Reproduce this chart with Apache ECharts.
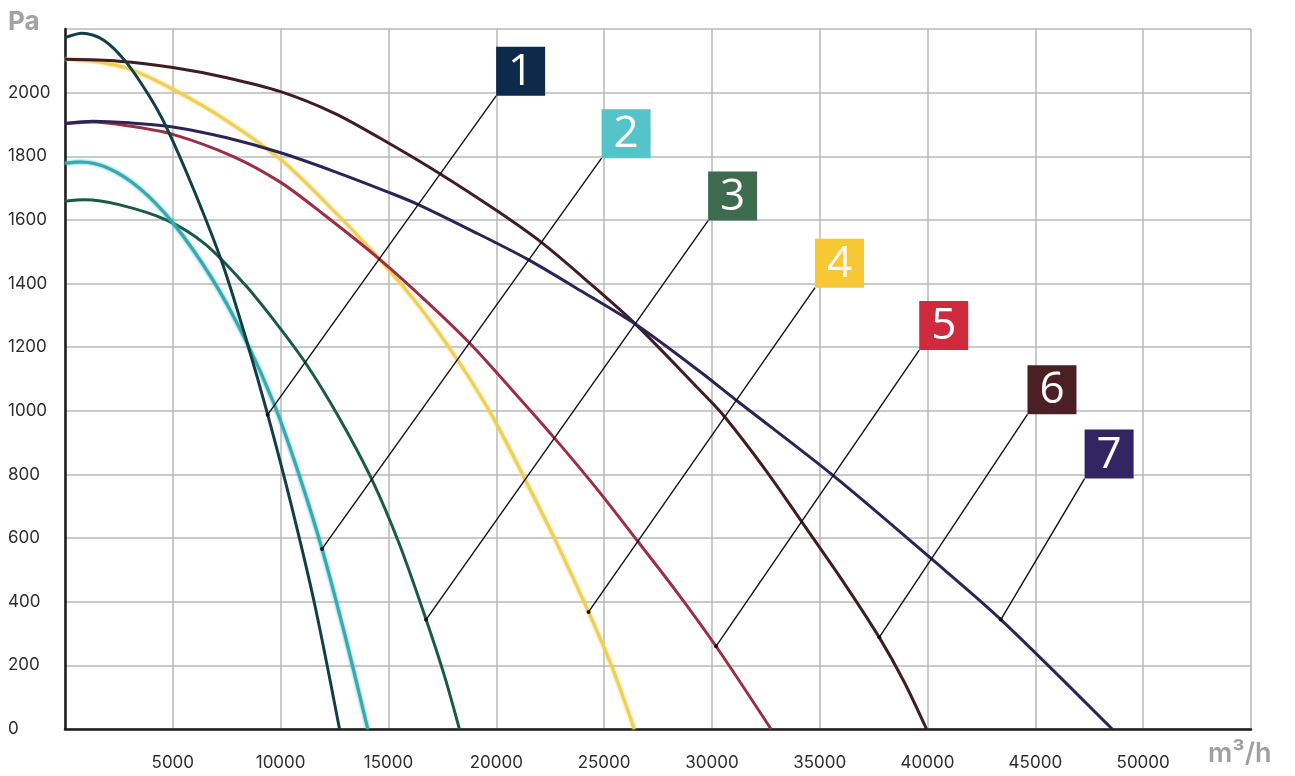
<!DOCTYPE html>
<html>
<head>
<meta charset="utf-8">
<title>Fan performance curves</title>
<script src="https://cdn.jsdelivr.net/npm/echarts@6/dist/echarts.min.js"></script>
<style>
  html, body { margin: 0; padding: 0; background: #ffffff; }
  #chart { width: 1295px; height: 776px; }
</style>
</head>
<body>
<div id="chart"></div>
<script>
// Air flow (m³/h) and static pressure (Pa) for each fan model
const fan1Flow = [0, 800, 1800, 2835, 3900, 4690, 6000, 7316, 8400, 9400, 10500, 11600, 12730];
const fan1Pressure = [2173, 2187, 2165, 2096, 1990, 1893, 1690, 1460, 1225, 988, 702, 385, 0];

const fan2Flow = [0, 700, 2000, 3450, 5000, 6840, 8400, 9710, 10850, 11920, 13000, 14040];
const fan2Pressure = [1778, 1782, 1763, 1700, 1591, 1413, 1219, 1019, 800, 566, 290, 0];

const fan3Flow = [0, 900, 2500, 4690, 6500, 8300, 9800, 11180, 12700, 14195, 15500, 16745, 17600, 18290];
const fan3Pressure = [1659, 1663, 1648, 1600, 1524, 1400, 1275, 1148, 980, 789, 582, 344, 166, 0];

const fan4Flow = [0, 1500, 3000, 5000, 7500, 10000, 12300, 14580, 16500, 18290, 19800, 21300, 22800, 24280, 25400, 26400];
const fan4Pressure = [2105, 2097, 2074, 2011, 1912, 1790, 1640, 1477, 1322, 1151, 985, 789, 585, 368, 189, 0];

const fan5Flow = [0, 1300, 3000, 5000, 7780, 10000, 12000, 14580, 16700, 18750, 20700, 22690, 24600, 26560, 28400, 30190, 32740];
const fan5Pressure = [1903, 1908, 1895, 1869, 1800, 1718, 1617, 1477, 1348, 1214, 1068, 915, 760, 590, 428, 260, 0];

const fan6Flow = [0, 2500, 5000, 7500, 10000, 12500, 14580, 17440, 20000, 22080, 24300, 26480, 29410, 30570, 32500, 34200, 36000, 37760, 38900, 39950];
const fan6Pressure = [2105, 2099, 2079, 2047, 2003, 1935, 1858, 1743, 1630, 1530, 1403, 1271, 1067, 983, 813, 648, 472, 288, 150, 0];

const fan7Flow = [0, 1300, 3000, 5000, 7500, 10000, 12500, 15040, 16360, 18900, 21460, 24000, 26480, 29410, 31190, 35670, 40230, 43400, 48560];
const fan7Pressure = [1903, 1910, 1905, 1892, 1858, 1811, 1752, 1686, 1649, 1565, 1476, 1374, 1271, 1125, 1030, 794, 532, 344, 0];

// Tag numbers and the point on each curve that a tag points to
const fanTags = ['1', '2', '3', '4', '5', '6', '7'];
const calloutFlow = [9400, 11920, 16745, 24280, 30190, 37760, 43400];
const calloutPressure = [988, 566, 344, 368, 260, 288, 344];

// Where the tag boxes sit, in axis units (box centre)
const tagFlow = [21130, 26020, 30960, 35920, 40750, 45770, 48420];
const tagPressure = [2067, 1871, 1675, 1464, 1268, 1066, 864];

// Axis ranges
const flowMax = 55000, flowStep = 5000;
const pressureMax = 2200, pressureStep = 200;

const curveColors = ['#123e4a', '#34a9b1', '#1b5a47', '#f0cf55', '#9c2f45', '#3f1d23', '#2b2457'];
const tagColors = ['#0c2b4b', '#55c3c9', '#3e6b4f', '#f6c833', '#cf2a3d', '#4a2025', '#322561'];

const flows = [fan1Flow, fan2Flow, fan3Flow, fan4Flow, fan5Flow, fan6Flow, fan7Flow];
const pressures = [fan1Pressure, fan2Pressure, fan3Pressure, fan4Pressure, fan5Pressure, fan6Pressure, fan7Pressure];

const labelFont = 'Inter, "DejaVu Sans", sans-serif';

function curveSeries(i) {
  const glow = (i === 3 || i === 1);
  return {
    name: 'Fan ' + fanTags[i],
    type: 'line',
    data: flows[i].map((q, k) => [q, pressures[i][k]]),
    smooth: 0.3,
    showSymbol: false,
    silent: true,
    z: 3,
    lineStyle: {
      color: curveColors[i],
      width: 3,
      shadowBlur: glow ? 3 : 0,
      shadowColor: glow ? curveColors[i] : 'transparent'
    }
  };
}

// Drawing order so the darker curves sit on top where they cross
const drawOrder = [3, 4, 5, 6, 2, 1, 0];

const calloutData = fanTags.map((t, i) => [tagFlow[i], tagPressure[i], calloutFlow[i], calloutPressure[i], i]);

const calloutSeries = {
  type: 'custom',
  coordinateSystem: 'cartesian2d',
  clip: false,
  silent: true,
  z: 10,
  encode: { x: [0, 2], y: [1, 3] },
  data: calloutData,
  renderItem: function (params, api) {
    const idx = api.value(4);
    const box = api.coord([api.value(0), api.value(1)]);
    const tip = api.coord([api.value(2), api.value(3)]);
    const half = 24.5;
    const corner = [box[0] - half, box[1] + half];
    return {
      type: 'group',
      children: [
        {
          type: 'line',
          shape: { x1: corner[0], y1: corner[1], x2: tip[0], y2: tip[1] },
          style: { stroke: '#111111', lineWidth: 1.4 }
        },
        {
          type: 'circle',
          shape: { cx: tip[0], cy: tip[1], r: 2 },
          style: { fill: '#111111' }
        },
        {
          type: 'rect',
          shape: { x: box[0] - half, y: box[1] - half, width: half * 2, height: half * 2 },
          style: { fill: tagColors[idx] }
        },
        {
          type: 'text',
          x: box[0],
          y: box[1] + 1,
          style: {
            text: fanTags[idx],
            fill: '#ffffff',
            fontSize: 44,
            fontFamily: '"Open Sans", sans-serif',
            align: 'center',
            verticalAlign: 'middle'
          }
        }
      ]
    };
  }
};

const chart = echarts.init(document.getElementById('chart'), null, { renderer: 'canvas' });

chart.setOption({
  backgroundColor: '#ffffff',
  animation: false,
  grid: { left: 65, right: 44, top: 29, bottom: 47 },
  xAxis: {
    type: 'value',
    min: 0,
    max: flowMax,
    interval: flowStep,
    axisLine: { show: true, onZero: false, lineStyle: { color: '#1a1a1a', width: 2.5 } },
    axisTick: { show: false },
    splitLine: { show: true, lineStyle: { color: '#b9b9b9', width: 1.5 } },
    axisLabel: {
      color: '#2e2e2e',
      fontSize: 17,
      fontFamily: labelFont,
      margin: 25,
      formatter: v => (v === 0 || v === flowMax) ? '' : String(v)
    }
  },
  yAxis: {
    type: 'value',
    min: 0,
    max: pressureMax,
    interval: pressureStep,
    axisLine: { show: true, lineStyle: { color: '#1a1a1a', width: 2.5 } },
    axisTick: { show: false },
    splitLine: { show: true, lineStyle: { color: '#b9b9b9', width: 1.5 } },
    axisLabel: {
      color: '#2e2e2e',
      fontSize: 17,
      fontFamily: labelFont,
      align: 'left',
      margin: 57,
      formatter: v => v === pressureMax ? '' : String(v)
    }
  },
  graphic: [
    {
      type: 'text',
      left: 8,
      top: 9,
      style: { text: 'Pa', fill: '#a3a3a3', fontSize: 26, fontWeight: 'bold', fontFamily: labelFont }
    },
    {
      type: 'text',
      left: 1208,
      top: 740,
      style: { text: 'm³/h', fill: '#a0a0a0', fontSize: 27, fontWeight: 600, fontFamily: labelFont }
    }
  ],
  series: drawOrder.map(curveSeries).concat([calloutSeries])
});
</script>
</body>
</html>
